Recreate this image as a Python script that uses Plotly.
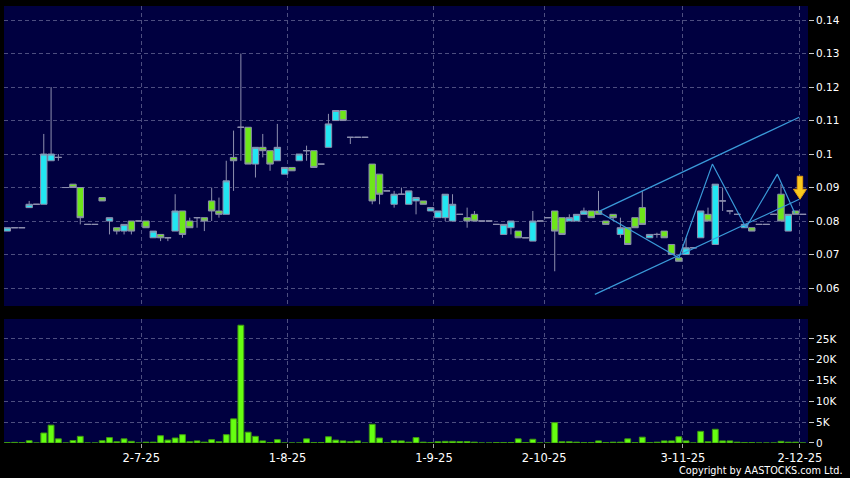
import plotly.graph_objects as go

# ---- data ----
opens = [.077,.078,.078,.084,.085,.085,.098,.099,.090,.091,.090,.079,.079,.087,.080,.078,.077,.080,.080,.080,
         .075,.076,.075,.077,.083,.080,.081,.081,.086,.083,.082,.099,.108,.108,.097,.102,.101,.098,.094,.096,
         .098,.101,.101,.097,.102,.110,.113,.105,.105,.105,.097,.094,.089,.085,.088,.085,.086,.086,.083,.081,
         .081,.080,.082,.081,.082,.080,.080,.079,.076,.078,.077,.075,.074,.080,.081,.083,.081,.080,.080,.082,
         .083,.083,.080,.082,.076,.078,.081,.084,.075,.076,.077,.073,.069,.070,.072,.075,.082,.073,.086,.083,
         .082,.078,.078,.079,.079,.082,.088,.077,.083,.082]
highs = [.078,.078,.078,.086,.085,.106,.120,.100,.090,.091,.090,.079,.079,.087,.081,.078,.079,.080,.080,.080,
         .077,.076,.075,.088,.083,.081,.081,.081,.090,.087,.098,.107,.130,.108,.102,.106,.101,.109,.096,.096,
         .100,.1025,.101,.097,.112,.113,.113,.105,.105,.105,.097,.094,.089,.089,.090,.089,.087,.086,.084,.083,
         .088,.088,.082,.084,.083,.080,.080,.079,.079,.080,.077,.075,.083,.080,.081,.083,.081,.082,.082,.084,
         .083,.089,.080,.082,.081,.078,.081,.089,.076,.0765,.077,.073,.069,.075,.072,.083,.084,.091,.090,.083,
         .082,.079,.078,.079,.079,.082,.091,.082,.083,.082]
lows = [.077,.078,.078,.084,.085,.085,.098,.098,.090,.090,.079,.079,.079,.086,.076,.076,.076,.076,.080,.078,
        .075,.074,.074,.077,.075,.078,.078,.077,.080,.081,.082,.089,.098,.097,.093,.099,.095,.098,.094,.095,
        .098,.098,.096,.097,.102,.110,.110,.103,.105,.105,.085,.085,.089,.084,.088,.085,.082,.085,.083,.081,
        .080,.080,.082,.078,.080,.080,.080,.079,.076,.076,.075,.075,.074,.080,.081,.065,.076,.080,.080,.082,
        .081,.082,.079,.080,.075,.073,.078,.079,.075,.075,.075,.070,.068,.070,.072,.075,.080,.073,.083,.082,
        .082,.078,.077,.079,.079,.082,.080,.077,.082,.082]
closes = [.078,.078,.078,.085,.085,.100,.100,.099,.090,.090,.081,.079,.079,.086,.081,.077,.079,.077,.080,.078,
          .077,.075,.075,.083,.076,.078,.081,.080,.083,.082,.092,.098,.108,.097,.102,.101,.097,.102,.096,.095,
          .100,.101,.096,.097,.109,.113,.110,.105,.105,.105,.086,.088,.089,.088,.088,.089,.087,.085,.084,.083,
          .088,.085,.082,.080,.080,.080,.080,.079,.079,.080,.075,.075,.080,.080,.081,.077,.076,.081,.082,.083,
          .081,.082,.079,.081,.078,.073,.078,.079,.076,.076,.075,.070,.068,.072,.072,.083,.080,.091,.086,.083,
          .082,.079,.077,.079,.079,.082,.080,.082,.082,.082]
volumes = [100,150,100,550,0,2400,4300,1000,0,600,1600,0,0,550,1300,300,1000,400,0,200,
           200,1750,700,1200,2000,300,500,200,800,300,2000,5800,28300,2600,1600,500,100,800,0,0,
           0,1000,100,100,1500,700,500,300,500,0,4500,1200,0,550,500,200,1300,200,100,300,
           400,400,350,350,200,0,0,100,100,100,1000,100,900,0,0,4900,300,300,200,100,
           100,500,100,200,200,1000,100,1400,100,200,500,500,1500,500,0,2800,300,3300,500,500,
           200,100,100,0,0,0,400,200,200,0]
x_idx = list(range(len(closes)))

tick_pos = [18.35, 38.4, 58.45, 73.55, 92.55, 108.6]
tick_labels = ["2-7-25", "1-8-25", "1-9-25", "2-10-25", "3-11-25", "2-12-25"]
price_ticks = [0.06, 0.07, 0.08, 0.09, 0.10, 0.11, 0.12, 0.13, 0.14]
price_tick_text = ["0.06", "0.07", "0.08", "0.09", "0.1", "0.11", "0.12", "0.13", "0.14"]
vol_ticks = [0, 5000, 10000, 15000, 20000, 25000]
vol_tick_text = ["0", "5K", "10K", "15K", "20K", "25K"]

# drawn trend lines (index, price)
upper_x = [81, 108.5]
upper_y = [0.0828, 0.1110]
lower_x = [80.5, 108.5]
lower_y = [0.0581, 0.0865]
zig_x = [81, 92, 96.6, 101.2, 105.5, 107.9]
zig_y = [0.0828, 0.0690, 0.0970, 0.0780, 0.0940, 0.0823]
arrow_at = (108.6, 0.0865)

BG = "#000040"
GRID = "#4d4e80"
CYAN = "#22e6f2"
GREEN = "#6ee61a"
WICK = "#8d8fae"
LINE = "#3a9ad9"
FONT = dict(family="DejaVu Sans", size=11, color="#ffffff")

fig = go.Figure()
fig.add_trace(go.Candlestick(
    x=x_idx, open=opens, high=highs, low=lows, close=closes,
    increasing=dict(fillcolor=CYAN, line=dict(color=WICK, width=1)),
    decreasing=dict(fillcolor=GREEN, line=dict(color=WICK, width=1)),
    whiskerwidth=0, xaxis="x", yaxis="y", showlegend=False, hoverinfo="skip"))
for xs, ys in [(upper_x, upper_y), (lower_x, lower_y), (zig_x, zig_y)]:
    fig.add_trace(go.Scatter(x=xs, y=ys, mode="lines", line=dict(color=LINE, width=1.2),
                             xaxis="x", yaxis="y", showlegend=False, hoverinfo="skip"))
fig.add_trace(go.Bar(x=x_idx, y=volumes, width=0.8,
                     marker=dict(color="#66ff11", line=dict(color="#3f9a10", width=1)),
                     xaxis="x2", yaxis="y2", showlegend=False, hoverinfo="skip"))

xr = [-0.45, 109.7]
common_x = dict(range=xr, tickvals=tick_pos, showgrid=True, gridcolor=GRID, griddash="4px,3px",
                gridwidth=1, zeroline=False, showline=False, fixedrange=True)
fig.update_layout(
    width=850, height=478,
    margin=dict(l=4, r=42, t=6, b=35),
    paper_bgcolor="#000000", plot_bgcolor=BG,
    font=FONT, bargap=0.15, boxgap=0.12, boxgroupgap=0,
    xaxis=dict(**common_x, domain=[0, 1], anchor="y", showticklabels=False,
               rangeslider=dict(visible=False)),
    xaxis2=dict(**common_x, domain=[0, 1], anchor="y2", matches="x",
                ticktext=tick_labels, showticklabels=True, ticks="outside",
                ticklen=4, tickcolor="#aaaaaa", tickfont=dict(size=11.5, color="#ffffff")),
    yaxis=dict(domain=[0.3135, 1], side="right", range=[0.05463, 0.1442],
               tickvals=price_ticks, ticktext=price_tick_text, ticks="outside", ticklen=5,
               tickcolor="#cccccc", showgrid=True, gridcolor=GRID, griddash="4px,3px",
               zeroline=False, showline=False, tickfont=dict(size=10.5), fixedrange=True),
    yaxis2=dict(domain=[0, 0.2838], side="right", range=[0, 29800],
                tickvals=vol_ticks, ticktext=vol_tick_text, ticks="outside", ticklen=5,
                tickcolor="#cccccc", showgrid=True, gridcolor=GRID, griddash="4px,3px",
                zeroline=False, showline=False, tickfont=dict(size=10.5), fixedrange=True),
)

# down arrow marker at the latest bar (pixel-sized path anchored at the data point)
fig.add_shape(type="path", xref="x", yref="y", xsizemode="pixel", ysizemode="pixel",
              xanchor=arrow_at[0], yanchor=arrow_at[1],
              path="M -2.7,23 L 2.7,23 L 2.7,10 L 6.5,10 L 0,0 L -6.5,10 L -2.7,10 Z",
              fillcolor="#f8c81e", line=dict(color="#e29a10", width=1))
fig.add_annotation(x=1.046, y=-0.064, xref="paper", yref="paper", xanchor="right",
                   yanchor="middle", showarrow=False, text="Copyright by AASTOCKS.com Ltd.",
                   font=dict(family="DejaVu Sans Condensed, DejaVu Sans", size=10.8, color="#ffffff"))

fig.write_html("out.html", config={"displayModeBar": False},
               post_script="document.body.style.margin='0';document.body.style.background='#000';")
